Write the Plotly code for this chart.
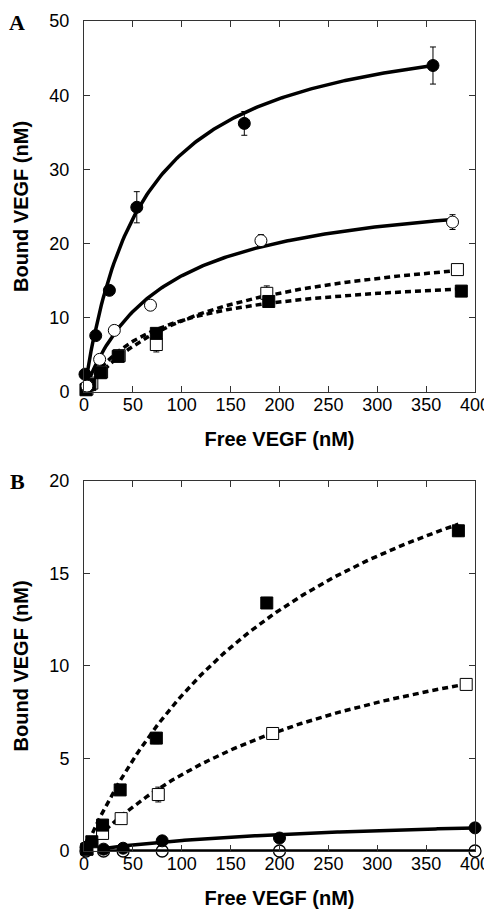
import numpy as np
import plotly.graph_objects as go

# ---------------- Panel A data ----------------
a_fc_x = [1, 12, 26, 54, 164, 357]
a_fc_y = [2.4, 7.6, 13.7, 24.9, 36.2, 44.0]
a_fc_e = [0.3, 0.4, 0.6, 2.1, 1.6, 2.5]

a_oc_x = [3, 16, 31, 68, 181, 377]
a_oc_y = [0.8, 4.4, 8.3, 11.7, 20.4, 22.9]
a_oc_e = [0.2, 0.3, 0.3, 0.6, 0.8, 1.0]

a_fs_x = [2, 6, 17, 35, 74, 189, 386]
a_fs_y = [0.3, 1.0, 2.6, 4.8, 7.9, 12.2, 13.6]
a_fs_e = [0.2, 0.2, 0.3, 0.3, 0.3, 0.4, 0.3]

a_os_x = [3, 8, 18, 36, 74, 187, 382]
a_os_y = [0.4, 1.2, 2.7, 4.9, 6.4, 13.3, 16.5]
a_os_e = [0.2, 0.2, 0.3, 0.3, 1.0, 1.0, 0.6]

# fit parameters (Bmax, Kd, x-extent) for panel A curves
a_fc_fit = [51.4, 60, 357]
a_oc_fit = [28.2, 80, 377]
a_fs_fit = [16.4, 70, 386]
a_os_fit = [21.8, 127, 382]

# ---------------- Panel B data ----------------
b_fs_x = [3, 8, 19, 37, 74, 187, 383]
b_fs_y = [0.1, 0.5, 1.4, 3.3, 6.1, 13.4, 17.3]
b_fs_e = [0.1, 0.1, 0.2, 0.2, 0.3, 0.3, 0.3]

b_os_x = [3, 8, 19, 38, 76, 193, 391]
b_os_y = [0.1, 0.3, 0.95, 1.75, 3.05, 6.35, 9.0]
b_os_e = [0.1, 0.1, 0.2, 0.2, 0.4, 0.2, 0.25]

b_fc_x = [2, 5, 20, 40, 80, 200, 400]
b_fc_y = [0.2, 0.3, 0.1, 0.15, 0.55, 0.7, 1.25]

b_oc_x = [2, 20, 40, 80, 200, 400]
b_oc_y = [0.0, 0.0, 0.0, 0.0, 0.0, 0.0]

b_fs_fit = [28.9, 244, 383]
b_os_fit = [15.2, 268, 391]
b_fc_fit = [2.08, 267, 400]
b_oc_fit = [0.0, 100, 400]

x_ticks = [0, 50, 100, 150, 200, 250, 300, 350, 400]
a_y_ticks = [0, 10, 20, 30, 40, 50]
b_y_ticks = [0, 5, 10, 15, 20]


def fit_curve(p):
    bmax, kd, xmax = p
    xs = np.linspace(0, xmax, 200)
    return xs, bmax * xs / (kd + xs)


fig = go.Figure()


def add_curve(p, dashed, xa, ya):
    xs, ys = fit_curve(p)
    fig.add_trace(go.Scatter(
        x=xs, y=ys, mode="lines", xaxis=xa, yaxis=ya, showlegend=False,
        line=dict(color="black", width=3.5, dash="6px,4px" if dashed else "solid"),
        hoverinfo="skip"))


def add_pts(x, y, e, symbol, fill, xa, ya, lw=1):
    fig.add_trace(go.Scatter(
        x=x, y=y, mode="markers", xaxis=xa, yaxis=ya, showlegend=False,
        cliponaxis=False,
        error_y=dict(type="data", array=e, visible=e is not None,
                     color="black", thickness=1, width=3),
        marker=dict(symbol=symbol, size=12, color=fill,
                    line=dict(color="black", width=lw))))


# Panel A
for p, d in [(a_fc_fit, False), (a_oc_fit, False), (a_fs_fit, True), (a_os_fit, True)]:
    add_curve(p, d, "x", "y")
add_pts(a_os_x, a_os_y, a_os_e, "square", "white", "x", "y")
add_pts(a_fs_x, a_fs_y, a_fs_e, "square", "black", "x", "y")
add_pts(a_oc_x, a_oc_y, a_oc_e, "circle", "white", "x", "y")
add_pts(a_fc_x, a_fc_y, a_fc_e, "circle", "black", "x", "y")

# Panel B
for p, d in [(b_fs_fit, True), (b_os_fit, True), (b_fc_fit, False), (b_oc_fit, False)]:
    add_curve(p, d, "x2", "y2")
add_pts(b_fc_x, b_fc_y, None, "circle", "black", "x2", "y2")
add_pts(b_oc_x, b_oc_y, None, "circle", "rgba(255,255,255,0)", "x2", "y2", lw=1.3)
add_pts(b_os_x, b_os_y, b_os_e, "square", "white", "x2", "y2")
add_pts(b_fs_x, b_fs_y, b_fs_e, "square", "black", "x2", "y2")

tickfont = dict(family="Liberation Sans, Arial, sans-serif", size=18, color="black")
titlefont = dict(family="Liberation Sans, Arial, sans-serif", size=20, color="black")

axis_common = dict(
    showgrid=False, zeroline=False, showline=True, linecolor="#333", linewidth=1,
    mirror="ticks", ticks="inside", ticklen=6, tickwidth=1, tickcolor="#333",
    tickfont=tickfont, automargin=False)

# page has an 8px body margin, so the figure is 484x903 placed at (8, 8)
W, H = 484, 903
ML, MR, MT, MB = 76, 17, 13, 60

fig.update_layout(
    width=W, height=H,
    margin=dict(l=ML, r=MR, t=MT, b=MB, autoexpand=False),
    paper_bgcolor="white", plot_bgcolor="white",
    xaxis=dict(axis_common, domain=[0, 1], range=[0, 400], tickvals=x_ticks,
               anchor="y", ticklabelstandoff=-4,
               title=dict(text="<b>Free VEGF (nM)</b>", font=titlefont, standoff=18)),
    yaxis=dict(axis_common, domain=[0.553, 1], range=[0, 50], tickvals=a_y_ticks,
               anchor="x", ticklabelstandoff=10,
               title=dict(text="<b>Bound VEGF (nM)</b>", font=titlefont, standoff=15)),
    xaxis2=dict(axis_common, domain=[0, 1], range=[0, 400], tickvals=x_ticks,
                anchor="y2", ticklabelstandoff=-4,
                title=dict(text="<b>Free VEGF (nM)</b>", font=titlefont, standoff=18)),
    yaxis2=dict(axis_common, domain=[0, 0.446], range=[0, 20], tickvals=b_y_ticks,
                anchor="x2", ticklabelstandoff=10,
                title=dict(text="<b>Bound VEGF (nM)</b>", font=titlefont, standoff=15)),
    annotations=[
        dict(text="<b>A</b>", x=17, y=22, xref="paper", yref="paper",
             showarrow=False, font=dict(family="Liberation Serif, Times New Roman, serif", size=22, color="black")),
        dict(text="<b>B</b>", x=17, y=481, xref="paper", yref="paper",
             showarrow=False, font=dict(family="Liberation Serif, Times New Roman, serif", size=22, color="black")),
    ],
)

# convert panel label positions (page pixels) into paper coords
plot_h = H - MT - MB
plot_w = W - ML - MR
new_ann = []
for a in fig.layout.annotations:
    px, py = a.x - 8, a.y - 8
    a.x = (px - ML) / plot_w
    a.y = (H - MB - py) / plot_h
    a.xanchor = "center"
    a.yanchor = "middle"
    new_ann.append(a)
fig.layout.annotations = new_ann

fig.write_html("out.html")
